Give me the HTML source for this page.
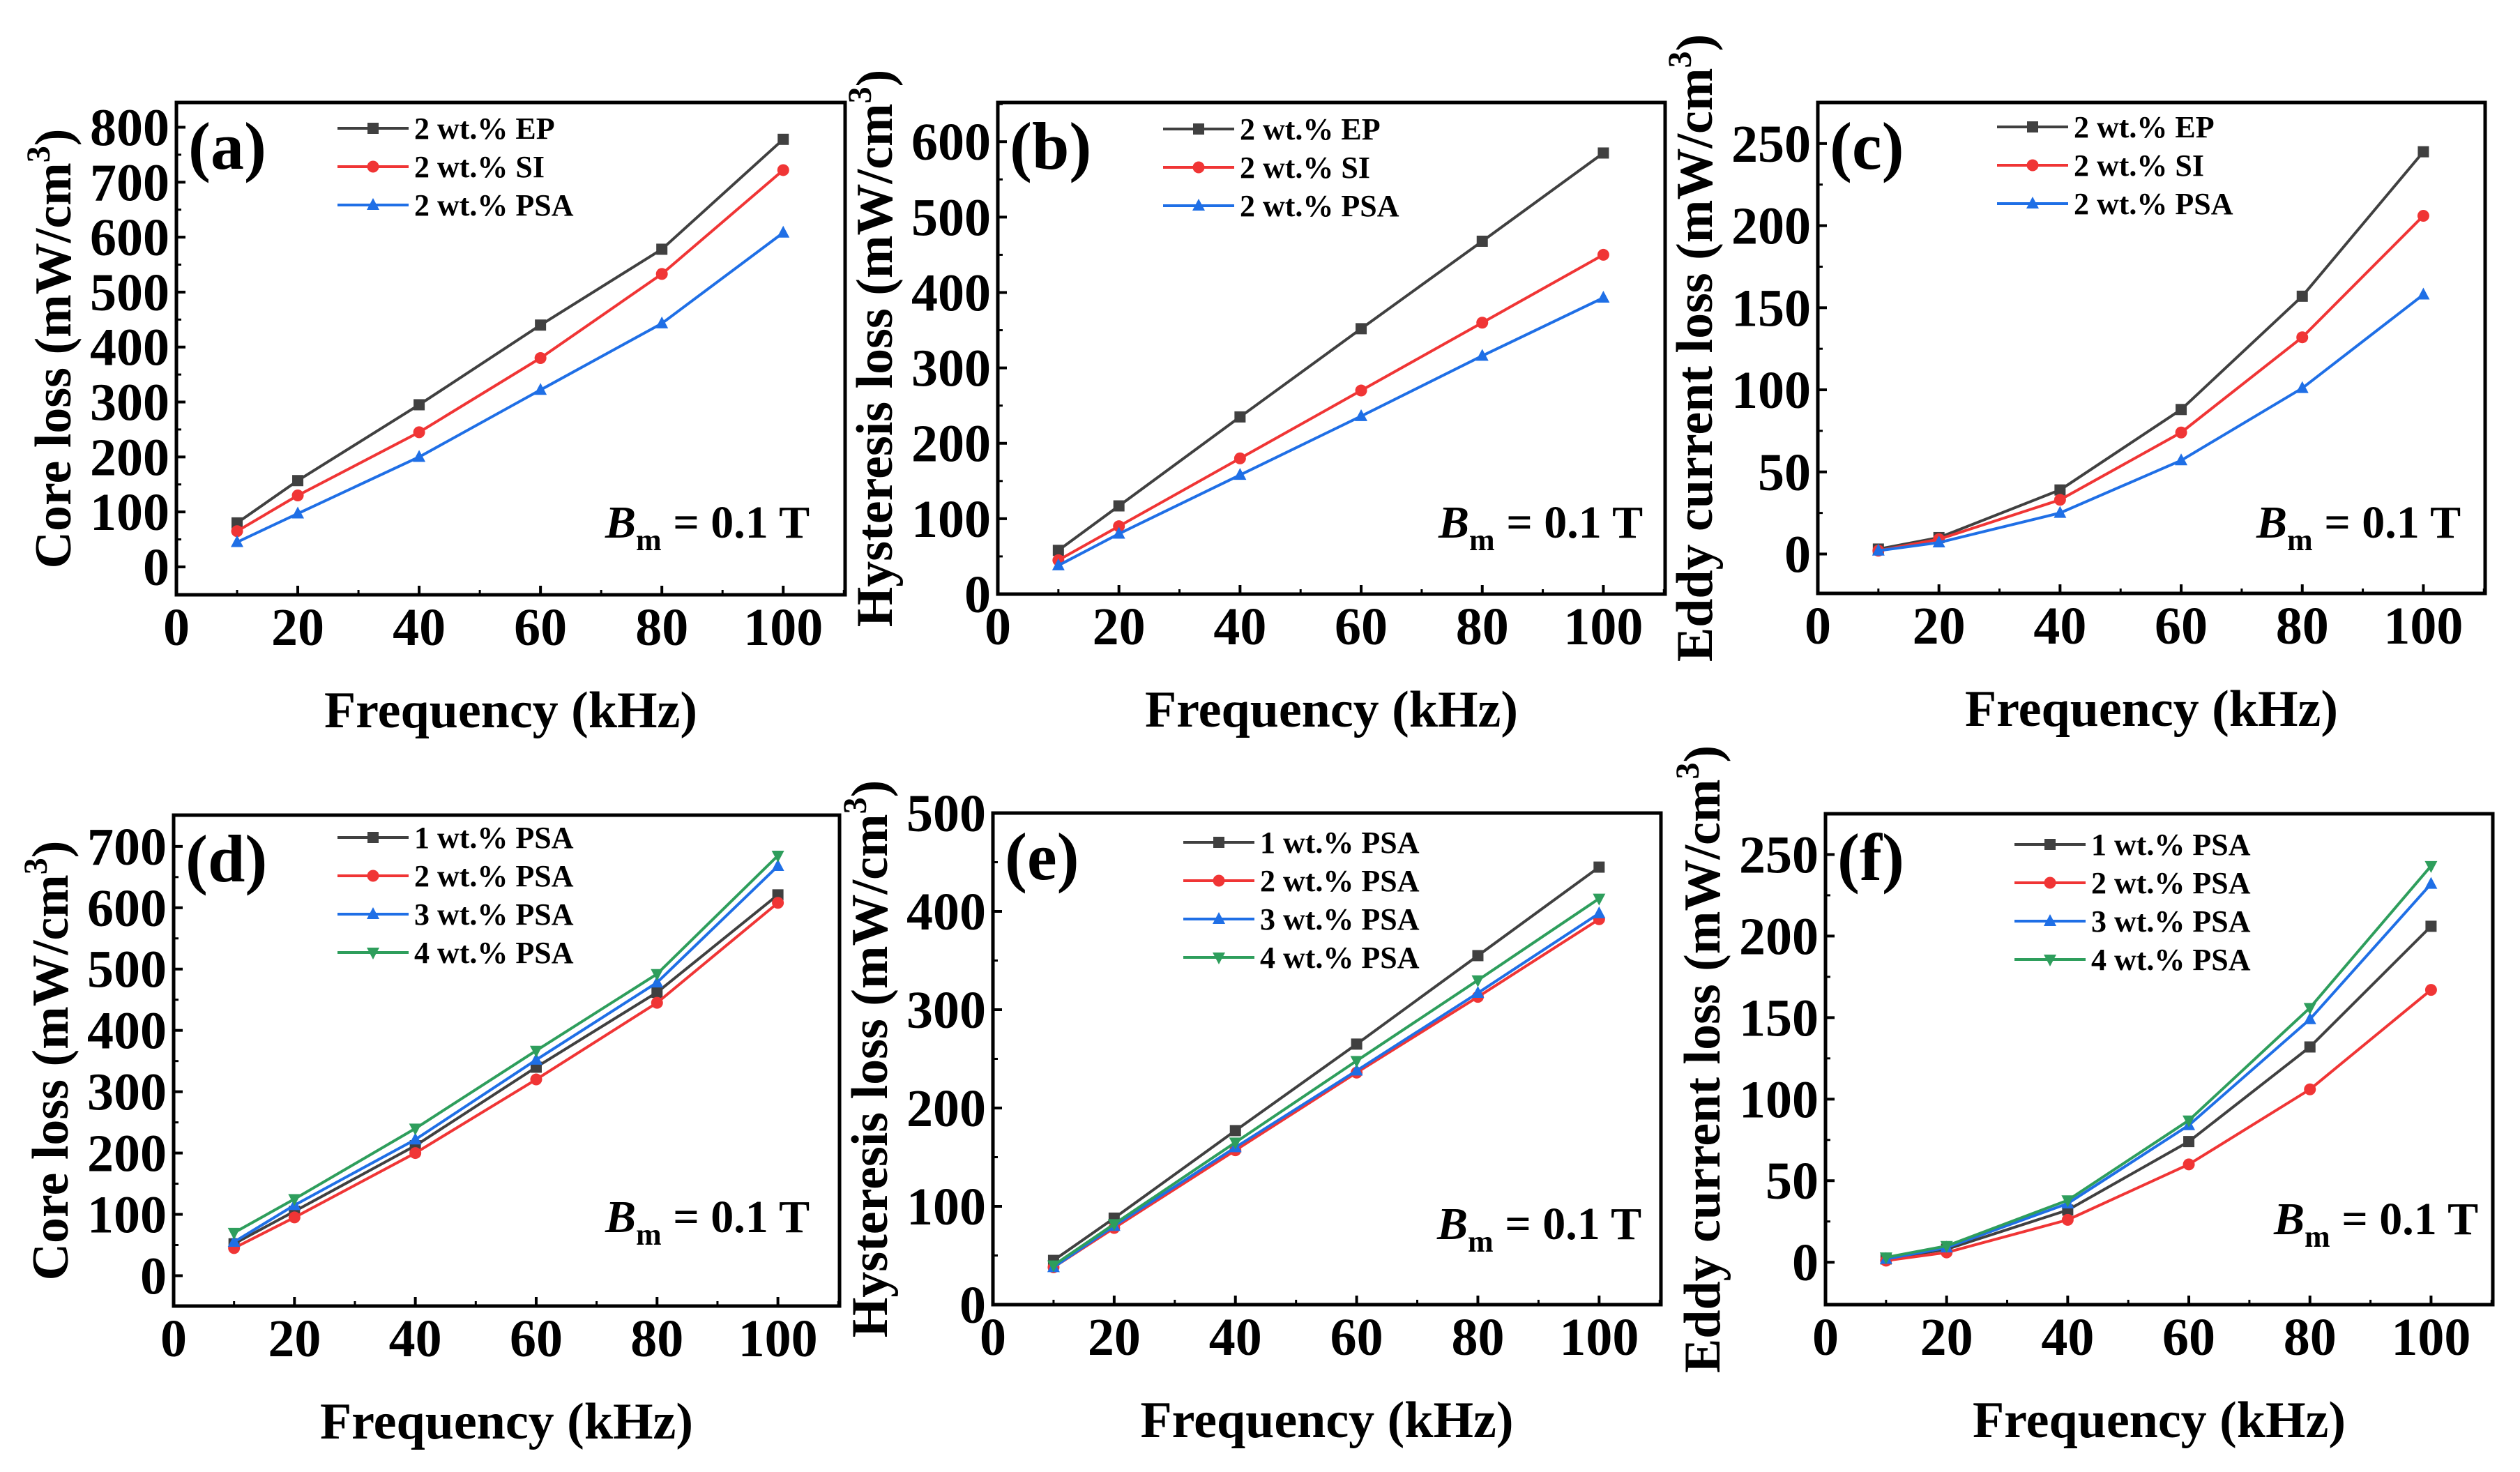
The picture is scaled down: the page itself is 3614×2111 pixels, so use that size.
<!DOCTYPE html>
<html><head><meta charset="utf-8">
<style>
html,body{margin:0;padding:0;background:#fff;}
svg{display:block;}
text{font-family:"Liberation Serif","Times New Roman",serif;font-weight:bold;fill:#000;}
</style></head>
<body>
<svg id="fig" width="3614" height="2111" viewBox="0 0 3614 2111" xmlns="http://www.w3.org/2000/svg" font-family="Liberation Serif, serif" font-weight="bold"></svg>
<script>
const freqs = [10, 20, 40, 60, 80, 100];
const xTicks = [0, 20, 40, 60, 80, 100];
// panel a: core loss
const aEP = [80, 157, 295, 440, 578, 778];
const aSI = [65, 130, 245, 380, 533, 722];
const aPSA = [45, 97, 200, 322, 443, 608];
const aYTicks = [0, 100, 200, 300, 400, 500, 600, 700, 800];
// panel b: hysteresis loss
const bEP = [58, 117, 235, 352, 468, 585];
const bSI = [45, 90, 180, 270, 360, 450];
const bPSA = [38, 80, 158, 236, 316, 393];
const bYTicks = [0, 100, 200, 300, 400, 500, 600];
// panel c: eddy current loss
const cEP = [3, 10, 39, 88, 157, 245];
const cSI = [2, 9, 33, 74, 132, 206];
const cPSA = [2, 7, 25, 57, 101, 158];
const cYTicks = [0, 50, 100, 150, 200, 250];
// panel d: core loss vs PSA content
const d1 = [52, 105, 212, 340, 462, 621];
const d2 = [45, 95, 200, 320, 445, 608];
const d3 = [55, 115, 222, 352, 478, 668];
const d4 = [70, 125, 240, 367, 492, 685];
const dYTicks = [0, 100, 200, 300, 400, 500, 600, 700];
// panel e: hysteresis loss vs PSA content
const e1 = [45, 88, 177, 265, 355, 445];
const e2 = [38, 78, 157, 236, 313, 392];
const e3 = [38, 80, 160, 238, 317, 398];
const e4 = [40, 82, 165, 248, 330, 413];
const eYTicks = [0, 100, 200, 300, 400, 500];
// panel f: eddy current loss vs PSA content
const f1 = [2, 8, 32, 74, 132, 206];
const f2 = [1, 6, 26, 60, 106, 167];
const f3 = [2, 9, 36, 84, 149, 232];
const f4 = [3, 10, 38, 87, 156, 243];
const fYTicks = [0, 50, 100, 150, 200, 250];

const NS = "http://www.w3.org/2000/svg";
const svg = document.getElementById('fig');
const C = {k:'#404040', r:'#f03535', b:'#1f6fe6', g:'#2e9e5c'};

function mk(tag, attrs, parent){
  const e = document.createElementNS(NS, tag);
  for (const k in attrs) e.setAttribute(k, attrs[k]);
  (parent || svg).appendChild(e);
  return e;
}
function marker(g, type, x, y, col){
  let m;
  if (type==='sq') m = mk('rect',{x:x-8,y:y-8,width:16,height:16,fill:col},g);
  else if (type==='ci') m = mk('circle',{cx:x,cy:y,r:8.5,fill:col},g);
  else if (type==='tu') m = mk('polygon',{points:`${x},${y-10} ${x-9},${y+7} ${x+9},${y+7}`,fill:col},g);
  else m = mk('polygon',{points:`${x},${y+10} ${x-9},${y-7} ${x+9},${y-7}`,fill:col},g);
  
  
}

const panels = [
 {id:'a', L:253, R:1212, T:147, B:853, ymin:-50.8, ymax:845, yt:aYTicks, ystep:100, title:'Core loss (mW/cm', lx:484, ly:184, ls:55, bx:868, by:771,
  series:[[aEP,'2 wt.% EP',C.k,'sq'],[aSI,'2 wt.% SI',C.r,'ci'],[aPSA,'2 wt.% PSA',C.b,'tu']]},
 {id:'b', L:1431, R:2388, T:147, B:852, ymin:0, ymax:652, yt:bYTicks, ystep:100, title:'Hysteresis loss (mW/cm', lx:1668, ly:185, ls:55, bx:2063, by:771,
  series:[[bEP,'2 wt.% EP',C.k,'sq'],[bSI,'2 wt.% SI',C.r,'ci'],[bPSA,'2 wt.% PSA',C.b,'tu']]},
 {id:'c', L:2607, R:3564, T:147, B:851, ymin:-24, ymax:275, yt:cYTicks, ystep:50, title:'Eddy current loss (mW/cm', lx:2864, ly:182, ls:55, bx:3236, by:771,
  series:[[cEP,'2 wt.% EP',C.k,'sq'],[cSI,'2 wt.% SI',C.r,'ci'],[cPSA,'2 wt.% PSA',C.b,'tu']]},
 {id:'d', L:249, R:1204, T:1169, B:1873, ymin:-49.5, ymax:751, yt:dYTicks, ystep:100, title:'Core loss (mW/cm', lx:484, ly:1201, ls:55, bx:868, by:1767,
  series:[[d1,'1 wt.% PSA',C.k,'sq'],[d2,'2 wt.% PSA',C.r,'ci'],[d3,'3 wt.% PSA',C.b,'tu'],[d4,'4 wt.% PSA',C.g,'td']]},
 {id:'e', L:1424, R:2382, T:1166, B:1871, ymin:0, ymax:500, yt:eYTicks, ystep:100, title:'Hysteresis loss (mW/cm', lx:1697, ly:1208, ls:55, bx:2061, by:1777,
  series:[[e1,'1 wt.% PSA',C.k,'sq'],[e2,'2 wt.% PSA',C.r,'ci'],[e3,'3 wt.% PSA',C.b,'tu'],[e4,'4 wt.% PSA',C.g,'td']]},
 {id:'f', L:2618, R:3575, T:1167, B:1871, ymin:-26, ymax:275, yt:fYTicks, ystep:50, title:'Eddy current loss (mW/cm', lx:2889, ly:1211, ls:55, bx:3261, by:1770,
  series:[[f1,'1 wt.% PSA',C.k,'sq'],[f2,'2 wt.% PSA',C.r,'ci'],[f3,'3 wt.% PSA',C.b,'tu'],[f4,'4 wt.% PSA',C.g,'td']]}
];

panels.forEach(p => {
  const g = mk('g', {});
  
  
  const xmin = 0, xmax = 110.2;
  const sx = v => p.L + (v - xmin) / (xmax - xmin) * (p.R - p.L);
  const sy = v => p.B - (v - p.ymin) / (p.ymax - p.ymin) * (p.B - p.T);

  xTicks.forEach(t => {
    const tk = mk('line', {x1:sx(t), x2:sx(t), y1:p.B, y2:p.B-13, stroke:'#000','stroke-width':4}, g);
    
    
    const mt = mk('line', {x1:sx(t+10), x2:sx(t+10), y1:p.B, y2:p.B-7, stroke:'#000','stroke-width':3}, g);
    
    
    const tl = mk('text', {x:sx(t), y:p.B+72, 'font-size':76, 'text-anchor':'middle'}, g);
    tl.textContent = t;
    
    
  });
  p.yt.forEach(t => {
    const tk = mk('line', {x1:p.L, x2:p.L+13, y1:sy(t), y2:sy(t), stroke:'#000','stroke-width':4}, g);
    
    
    const mv = t + p.ystep/2;
    if (mv < p.ymax) {
      const mt = mk('line', {x1:p.L, x2:p.L+7, y1:sy(mv), y2:sy(mv), stroke:'#000','stroke-width':3}, g);
      
      
    }
    const tl = mk('text', {x:p.L-10, y:sy(t)+26, 'font-size':76, 'text-anchor':'end'}, g);
    tl.textContent = t;
    
    
  });
  const fr = mk('rect', {x:p.L, y:p.T, width:p.R-p.L, height:p.B-p.T, fill:'none', stroke:'#000', 'stroke-width':5}, g);
  
  

  p.series.forEach((s, si) => {
    const [vals, name, col, mtype] = s;
    const pts = freqs.map((f, i) => sx(f) + ',' + sy(vals[i])).join(' ');
    const ln = mk('polyline', {points:pts, fill:'none', stroke:col, 'stroke-width':4, 'stroke-linejoin':'round'}, g);
    
    
    freqs.forEach((f, i) => marker(g, mtype, sx(f), sy(vals[i]), col));
    const ly = p.ly + si * p.ls;
    const ll = mk('line', {x1:p.lx, x2:p.lx+102, y1:ly, y2:ly, stroke:col, 'stroke-width':4}, g);
    
    
    marker(g, mtype, p.lx+51, ly, col);
    const lt = mk('text', {x:p.lx+110, y:ly+15, 'font-size':44}, g);
    lt.textContent = name;
    
    
  });

  const pl = mk('text', {x:p.L+17, y:p.T+95, 'font-size':96}, g);
  pl.textContent = '(' + p.id + ')';
  
  

  const bm = mk('text', {x:p.bx, y:p.by, 'font-size':66}, g);
  
  
  const t1 = mk('tspan', {'font-style':'italic'}, bm); t1.textContent = 'B';
  const t2 = mk('tspan', {'font-size':44, dy:18}, bm); t2.textContent = 'm';
  const t3 = mk('tspan', {dy:-18}, bm); t3.textContent = ' = 0.1 T';

  const xt = mk('text', {x:(p.L+p.R)/2, y:p.B+190, 'font-size':74, 'text-anchor':'middle'}, g);
  xt.textContent = 'Frequency (kHz)';
  
  

  const cx = p.L - 152, cy = (p.T + p.B)/2;
  const yt = mk('text', {x:cx, y:cy, 'font-size':74, 'text-anchor':'middle', transform:`rotate(-90 ${cx} ${cy})`}, g);
  
  
  const y1 = mk('tspan', {}, yt); y1.textContent = p.title;
  const y2 = mk('tspan', {'font-size':48, dy:-30}, yt); y2.textContent = '3';
  const y3 = mk('tspan', {dy:30}, yt); y3.textContent = ')';
});
</script>
</body></html>
